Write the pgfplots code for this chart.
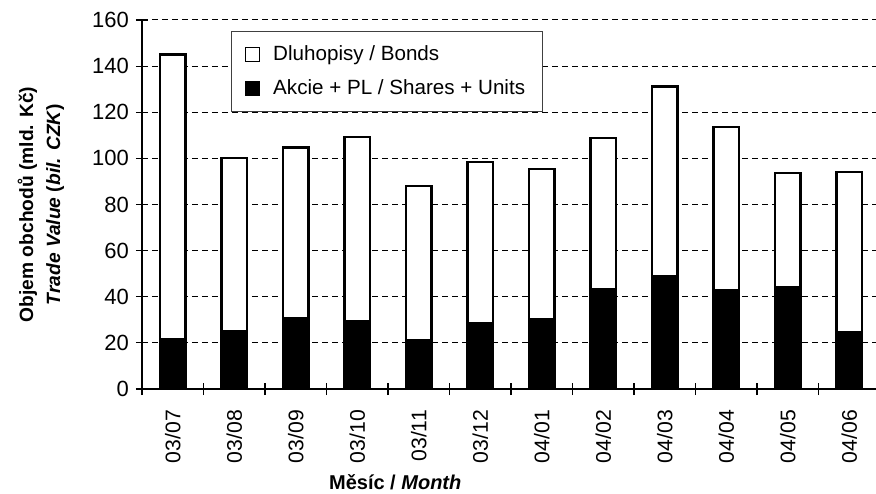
\documentclass[border=0pt]{standalone}
\usepackage{fontspec}
\setmainfont{Liberation Sans}
\usepackage{pgfplots}
\pgfplotsset{compat=1.18}
\begin{document}
\begin{tikzpicture}
\begin{axis}[
  scale only axis,
  width=367pt, height=184.5pt,
  ybar stacked, bar width=12.75pt,
  xmin=-0.5, xmax=11.435,
  ymin=0, ymax=160,
  ytick={0,20,...,160},
  xtick={0,...,11},
  xticklabels={03/07,03/08,03/09,03/10,03/11,03/12,04/01,04/02,04/03,04/04,04/05,04/06},
  minor xtick={-0.5,0.5,...,10.5},
  major x tick style={draw=none},
  tick align=center,
  major tick length=6pt, minor tick length=6pt,
  tick style={black, line width=0.6pt},
  axis x line*=bottom, axis y line*=left,
  axis line style={line width=0.8pt},
  ymajorgrids,
  grid style={black, dash pattern=on 3pt off 2pt, line width=0.5pt},
  /pgf/number format/assume math mode=true,
  tick label style={font=\fontsize{11}{13}\selectfont},
  xticklabel style={rotate=90, anchor=east, font=\fontsize{10.6}{13}\selectfont},
  xticklabel shift=4pt,
  xlabel={\textbf{Měsíc / \textit{Month}}},
  xlabel style={at={([yshift=-46.5pt]rel axis cs:0.345,0)}, anchor=center, font=\fontsize{10}{12}\selectfont},
  ylabel={\textbf{Objem obchodů (mld. Kč)}\\\textbf{\textit{Trade Value} (\textit{bil. CZK})}},
  ylabel style={at={([xshift=-50.5pt]rel axis cs:0,0.50)}, anchor=center, align=center, font=\fontsize{9.6}{13.5}\selectfont},
  reverse legend,
  legend image code/.code={\draw[#1, line width=0.8pt] (0pt,-3.5pt) rectangle (7pt,3.5pt);},
  legend style={at={(rel axis cs:0.1213,0.970)}, anchor=north west, draw=black!75, line width=0.6pt,
    font=\fontsize{10.3}{12}\selectfont, row sep=4pt, column sep=4.5pt, inner xsep=6.5pt, inner ysep=5pt, cells={anchor=west}},
]
\addplot[fill=black, draw=black, line width=1.1pt] coordinates {
(0,21.7) (1,25.3) (2,30.7) (3,29.3) (4,21) (5,28.6) (6,30.3) (7,43.3) (8,48.8) (9,42.7) (10,44.2) (11,24.7)};
\addlegendentry{Akcie + PL / Shares + Units}
\addplot[fill=white, draw=black, line width=1.1pt] coordinates {
(0,123.3) (1,74.7) (2,74) (3,80) (4,67) (5,69.8) (6,65.2) (7,65.5) (8,82.4) (9,70.8) (10,49.3) (11,69.3)};
\addlegendentry{Dluhopisy / Bonds}
\end{axis}
\pgfresetboundingbox
\path[use as bounding box] (-71pt,-52pt) rectangle (367pt,194.5pt);
\end{tikzpicture}
\end{document}
